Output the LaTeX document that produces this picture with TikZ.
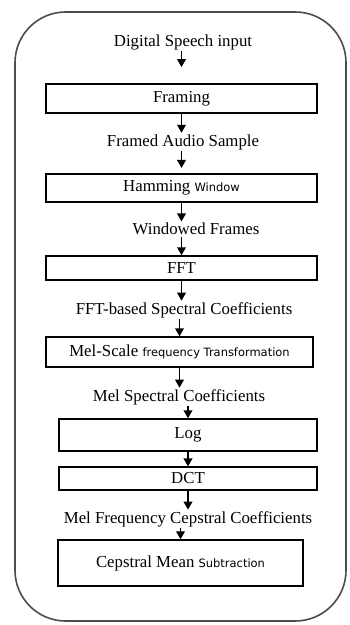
\documentclass[tikz,border=0pt]{standalone}
\usepackage{fontspec}
\setmainfont{Liberation Serif}
\newfontfamily\lightsans{DejaVu Sans}
\usetikzlibrary{arrows.meta}
\newcommand{\sw}[1]{{\lightsans\fontsize{8.6}{10}\selectfont #1}}

\begin{document}
\begin{tikzpicture}[x=0.75pt,y=-0.75pt,
  every node/.style={font=\fontsize{12.6}{14}\selectfont},
  stage/.style 2 args={draw,line width=1.1pt,minimum width=#1,minimum height=#2,inner sep=0pt},
  lbl/.style={inner sep=1pt},
  flow/.style={line width=1.1pt,-{Triangle[width=6.5pt,length=6pt]}}]
\useasboundingbox (0,0) rectangle (350,625);
\draw[line width=1.2pt,gray!60!black,rounded corners=38pt] (15,12) rectangle (346,621);
% stages
\node[stage={203pt}{22pt}] (frm) at (181.5,98.5) {Framing};
\node[stage={203pt}{21pt}] (ham) at (181.5,188) {Hamming \sw{Window}};
\node[stage={203pt}{18pt}] (fft) at (181.5,268) {FFT};
\node[stage={200pt}{22.5pt}] (mel) at (179.5,352) {Mel-Scale \sw{frequency Transformation}};
\node[stage={193.5pt}{24pt}] (log) at (188,435) {Log};
\node[stage={193.5pt}{17pt}] (dct) at (188,478.5) {DCT};
\node[stage={184pt}{34.5pt}] (cms) at (180.5,563) {Cepstral Mean \sw{Subtraction}};
% signals between stages
\node[lbl] (in) at (183,42) {Digital Speech input};
\node[lbl] (fas) at (183,142) {Framed Audio Sample};
\node[lbl] (wf) at (196,229) {Windowed Frames};
\node[lbl] (fsc) at (184,310) {FFT-based Spectral Coefficients};
\node[lbl] (msc) at (179,397) {Mel Spectral Coefficients};
\node[lbl] (mfcc) at (188,519) {Mel Frequency Cepstral Coefficients};
% arrows
\foreach \a/\b in {frm/fas, ham/wf, fft/fsc, mel/msc, log/dct, dct/mfcc}
  \draw[flow] (\a.south) -- (\a.south |- \b.north);
\foreach \a/\b/\s in {in/frm/12pt, fas/ham/4pt, wf/fft/0pt, fsc/mel/0pt, msc/log/0pt, mfcc/cms/0pt}
  \draw[flow,shorten >=\s] (\b.north |- \a.south) -- (\b.north);
\end{tikzpicture}
\end{document}
